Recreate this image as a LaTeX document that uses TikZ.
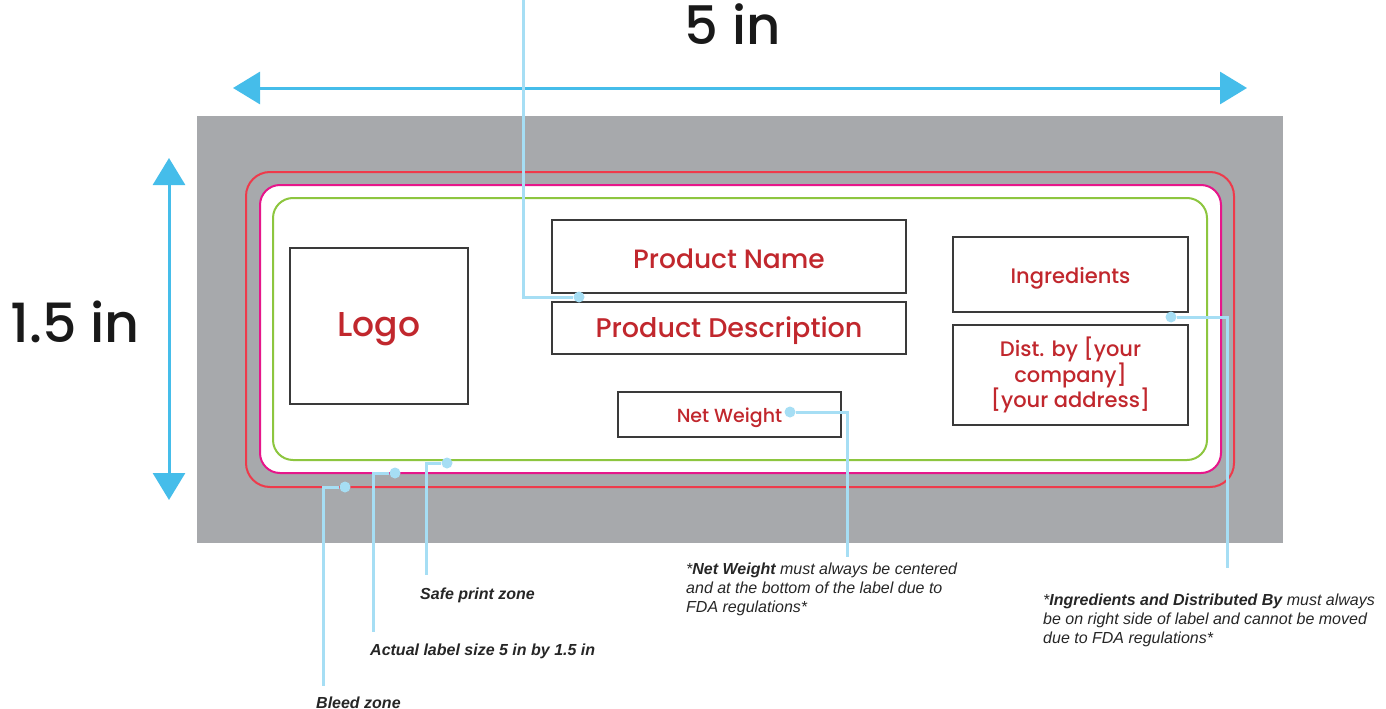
\documentclass[tikz,border=0pt]{standalone}
\usepackage{fontspec}
\setmainfont{Liberation Sans}
\newfontfamily\gothamf{Poppins Medium}
\usetikzlibrary{arrows.meta}
\definecolor{graybg}{HTML}{A7A9AC}
\definecolor{redline}{HTML}{EE3A4B}
\definecolor{magline}{HTML}{E6168A}
\definecolor{greenline}{HTML}{8DC63F}
\definecolor{arrowblue}{HTML}{45BDEA}
\definecolor{leaderblue}{HTML}{A6DEF4}
\definecolor{redtext}{HTML}{C1272D}
\definecolor{boxline}{HTML}{3A3A3A}
\begin{document}
\begin{tikzpicture}[x=1pt,y=-1pt,
  box/.style={draw=boxline, line width=1.2pt, fill=white, inner sep=0pt, text=redtext, font=\gothamf, align=center},
  leader/.style={draw=leaderblue, line width=3pt},
  dot/.style={circle, fill=leaderblue, minimum size=11pt, inner sep=0pt},
  bigarrow/.style={draw=arrowblue, line width=3pt, {Triangle[length=27pt,width=32pt]}-{Triangle[length=27pt,width=32pt]}},
  note/.style={font=\fontsize{16}{19}\selectfont\itshape, text=black!85, align=left, inner sep=0pt, anchor=north west},
  lab/.style={font=\fontsize{16}{19}\selectfont\bfseries\itshape, text=black!85, inner sep=0pt, anchor=base west},
  dim/.style={font=\gothamf\fontsize{53}{58}\selectfont, text=black!90, inner sep=0pt, anchor=base}
]
\useasboundingbox (0,0) rectangle (1386,709);

% label areas
\fill[graybg] (197,116) rectangle (1283,543);
\draw[redline, line width=2pt, rounded corners=24pt] (246,172) rectangle (1234,487);
\draw[magline, fill=white, line width=2pt, rounded corners=20pt] (260,185) rectangle (1221,473);
\draw[greenline, line width=2pt, rounded corners=20pt] (273,198) rectangle (1207,460);

% dimension arrows
\coordinate (hl) at (233,88);
\coordinate (hr) at (1247,88);
\coordinate (vt) at (169,158);
\coordinate (vb) at (169,500);
\draw[bigarrow] (hl) -- (hr);
\draw[bigarrow] (vt) -- (vb);
\node[dim] (w) at (733,45) {5 in};
\node[dim, font=\gothamf\fontsize{54}{58}\selectfont] (h) at (75,342) {1.5 in};

% content boxes
\node[box, minimum width=178pt, minimum height=156pt, text height=21pt, text depth=0pt, font=\gothamf\fontsize{34.5}{38}\selectfont] (logo) at (379,326) {Logo};
\node[box, minimum width=354pt, minimum height=73pt, text height=23pt, text depth=0pt, font=\gothamf\fontsize{26.5}{30}\selectfont] (pname) at (729,256.5) {Product Name};
\node[box, minimum width=354pt, minimum height=52pt, text height=18pt, text depth=0pt, font=\gothamf\fontsize{27}{30}\selectfont] (pdesc) at (729,328) {Product Description};
\node[box, minimum width=223pt, minimum height=45pt, text height=15pt, text depth=0pt, font=\gothamf\fontsize{19}{22}\selectfont] (net) at (729.5,414.5) {Net Weight};
\node[box, minimum width=235pt, minimum height=75pt, text height=17pt, text depth=0pt, font=\gothamf\fontsize{21}{25}\selectfont] (ingr) at (1070.5,274.5) {Ingredients};
\node[box, minimum width=235pt, minimum height=100pt, font=\gothamf\fontsize{21}{25.5}\selectfont] (dist) at (1070.5,375) {Dist. by {[}your\\company{]}\\{[}your address{]}};

% leaders
\node[dot] (d1) at (579,297) {};
\coordinate (e1) at (523,0);
\draw[leader] (d1) -| (e1);

\node[dot] (d2) at (447,463) {};
\coordinate (e2) at (426,575);
\draw[leader] (d2) -| (e2);

\node[dot] (d3) at (395,473) {};
\coordinate (e3) at (373,632);
\draw[leader] (d3) -| (e3);

\node[dot] (d4) at (345,487) {};
\coordinate (e4) at (323,686);
\draw[leader] (d4) -| (e4);

\node[dot] (d5) at (790,412) {};
\coordinate (e5) at (847,557);
\draw[leader] (d5) -| (e5);

\node[dot] (d6) at (1171,317) {};
\coordinate (e6) at (1227,568);
\draw[leader] (d6) -| (e6);

% notes
\node[lab] (n2) at (420,599) {Safe print zone};
\node[lab] (n3) at (370,655) {Actual label size 5 in by 1.5 in};
\node[lab] (n4) at (316,708) {Bleed zone};
\node[note] (n5) at (686,562.5) {*\textbf{Net Weight} must always be centered\\and at the bottom of the label due to\\FDA regulations*};
\node[note] (n6) at (1043,593.5) {*\textbf{Ingredients and Distributed By} must always\\be on right side of label and cannot be moved\\due to FDA regulations*};
\end{tikzpicture}
\end{document}
